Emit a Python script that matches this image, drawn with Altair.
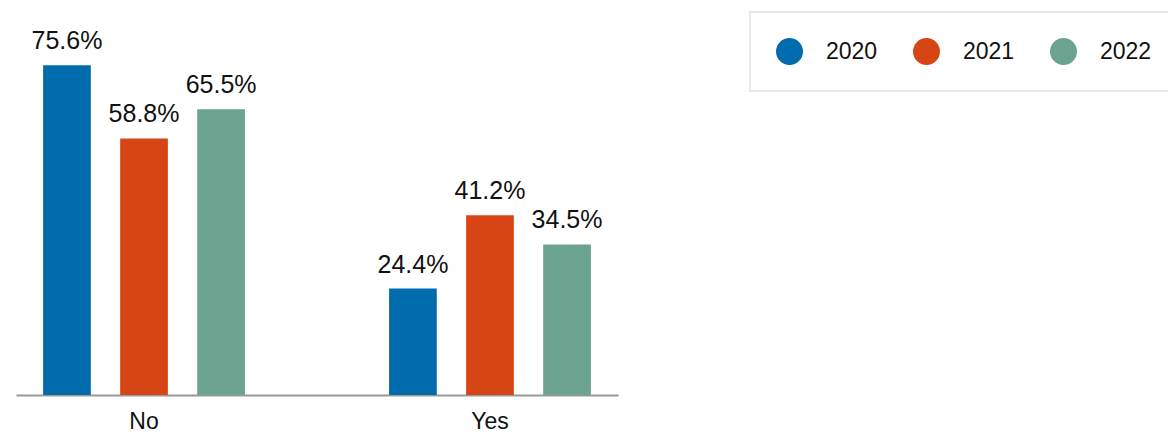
import altair as alt
import pandas as pd

categories = ["No", "No", "No", "Yes", "Yes", "Yes"]
years = ["2020", "2021", "2022", "2020", "2021", "2022"]
values = [75.6, 58.8, 65.5, 24.4, 41.2, 34.5]
labels = ["75.6%", "58.8%", "65.5%", "24.4%", "41.2%", "34.5%"]

df = pd.DataFrame({"answer": categories, "year": years, "value": values, "label": labels})

FONT = "Liberation Sans"
colors = ["#006CAD", "#D84515", "#6BA290"]

x = alt.X("answer:N", title=None,
          scale=alt.Scale(paddingInner=0.3, paddingOuter=0.02),
          axis=alt.Axis(labelAngle=0, ticks=False, labelPadding=15, labelFontSize=23,
                        labelFont=FONT, labelColor="#111", domainColor="#999", domainWidth=2))
xo = alt.XOffset("year:N", scale=alt.Scale(paddingInner=0.381, paddingOuter=0.262))
y = alt.Y("value:Q", title=None, scale=alt.Scale(domain=[0, 89.4]), axis=None)

bars = alt.Chart(df).mark_bar().encode(
    x=x, xOffset=xo, y=y,
    color=alt.Color("year:N", title=None,
                    scale=alt.Scale(domain=["2020", "2021", "2022"], range=colors),
                    legend=alt.Legend(orient="none", legendX=734, legendY=7, direction="horizontal",
                                      symbolType="circle", symbolSize=729, symbolStrokeWidth=0,
                                      labelFontSize=23, labelFont=FONT, labelColor="#111",
                                      labelOffset=23, columnPadding=35, padding=26,
                                      strokeColor="#e8e8e8", fillColor="white"))
)
text = alt.Chart(df).mark_text(baseline="bottom", dy=-11, fontSize=25, font=FONT, color="#111").encode(
    x=x, xOffset=xo, y=y, text="label:N"
)

chart = (bars + text).properties(
    width=602, height=390, autosize=alt.AutoSizeParams(type="none"),
    padding={"left": 16, "top": 5, "right": 550, "bottom": 39}
).configure_view(stroke=None).configure_legend(strokeWidth=2)

chart.save("out.html", embed_options={"renderer": "svg", "actions": False})
